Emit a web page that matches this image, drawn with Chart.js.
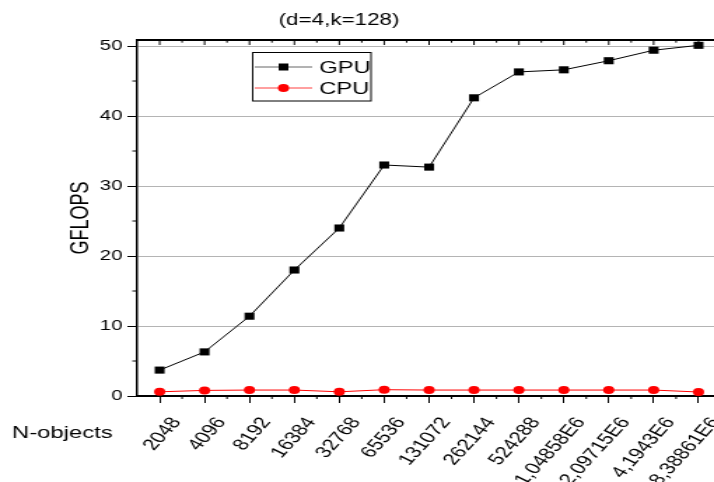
<!DOCTYPE html>
<html>
<head>
<meta charset="utf-8">
<script src="https://cdn.jsdelivr.net/npm/chart.js@4/dist/chart.umd.min.js"></script>
<style>
  html, body { margin: 0; padding: 0; background: #fff; overflow: hidden; }
  /* the reference is stretched sideways, so draw narrow and widen it */
  #wrap { width: 520px; height: 482px; transform: scaleX(1.4); transform-origin: 0 0; }
</style>
</head>
<body>
<div id="wrap"><canvas id="chart" width="520" height="482"></canvas></div>
<script>
const categories = ['2048', '4096', '8192', '16384', '32768', '65536', '131072',
    '262144', '524288', '1,04858E6', '2,09715E6', '4,1943E6', '8,38861E6'];
const gpuValues = [3.7, 6.3, 11.4, 18.0, 24.0, 33.0, 32.7, 42.6, 46.3, 46.6, 47.9, 49.4, 50.1];
const cpuValues = [0.6, 0.8, 0.85, 0.85, 0.6, 0.9, 0.85, 0.85, 0.85, 0.85, 0.85, 0.85, 0.57];
const yTicks = [0, 10, 20, 30, 40, 50];
const yMinorTicks = [5, 15, 25, 35, 45];

const FONT = 'Arial, "Liberation Sans", sans-serif';
Chart.defaults.font.family = FONT;
Chart.defaults.color = '#000';

const extras = {
    id: 'extras',
    afterDraw(chart) {
        const ctx = chart.ctx;
        const a = chart.chartArea;
        const xs = chart.scales.x, ys = chart.scales.y;
        const seg = (x1, y1, x2, y2) => {
            ctx.beginPath(); ctx.moveTo(x1, y1); ctx.lineTo(x2, y2); ctx.stroke();
        };
        ctx.save();
        ctx.strokeStyle = '#000';

        // top + right frame
        ctx.lineWidth = 2;
        seg(a.left, a.top, a.right, a.top);
        ctx.lineWidth = 1.5;
        seg(a.right, a.top, a.right, a.bottom);

        ctx.lineWidth = 1;
        // minor ticks on y
        yMinorTicks.forEach(v => {
            const py = ys.getPixelForValue(v);
            seg(a.left - 3.5, py, a.left, py);
        });
        // minor ticks on x, inward ticks on top frame
        categories.forEach((c, i) => {
            const px = xs.getPixelForValue(i);
            seg(px, a.top, px, a.top + 5);
            if (i < categories.length - 1) {
                const mid = (px + xs.getPixelForValue(i + 1)) / 2;
                seg(mid, a.bottom, mid, a.bottom + 3);
                seg(mid, a.top, mid, a.top + 2.7);
            }
        });

        // legend box
        const lx = 180.5, ly = 52.5, lw = 84.5, lh = 48.5;
        ctx.lineWidth = 1;
        ctx.strokeRect(lx, ly, lw, lh);
        const rows = [
            { label: 'GPU', y: 67, line: '#666', ds: chart.data.datasets[0] },
            { label: 'CPU', y: 88, line: '#ff4040', ds: chart.data.datasets[1] }
        ];
        rows.forEach(r => {
            ctx.strokeStyle = r.line;
            ctx.lineWidth = 1;
            seg(182, r.y, 223, r.y);
            ctx.fillStyle = r.ds.pointBackgroundColor;
            if (r.ds.pointStyle === 'rect') {
                ctx.fillRect(199, r.y - 3.5, 7, 7);
            } else {
                ctx.beginPath(); ctx.arc(202.5, r.y, 4, 0, Math.PI * 2); ctx.fill();
            }
            ctx.fillStyle = '#000';
            ctx.font = '17px ' + FONT;
            ctx.textBaseline = 'middle';
            ctx.textAlign = 'left';
            ctx.fillText(r.label, 228, r.y + 1);
        });

        // chart title and x axis caption
        ctx.fillStyle = '#000';
        ctx.textBaseline = 'middle';
        ctx.font = '16px ' + FONT;
        ctx.fillText('(d=4,k=128)', 199, 21);
        ctx.textBaseline = 'alphabetic';
        ctx.font = '17px ' + FONT;
        ctx.fillText('N-objects', 8.6, 438);
        ctx.restore();
    }
};

new Chart(document.getElementById('chart'), {
    type: 'line',
    data: {
        labels: categories,
        datasets: [{
            label: 'GPU',
            data: gpuValues,
            borderColor: '#000',
            borderWidth: 1,
            pointStyle: 'rect',
            pointRadius: 5,
            pointBackgroundColor: '#000',
            pointBorderWidth: 0,
            tension: 0
        }, {
            label: 'CPU',
            data: cpuValues,
            borderColor: '#ff0000',
            borderWidth: 1,
            pointStyle: 'circle',
            pointRadius: 4,
            pointBackgroundColor: '#ff0000',
            pointBorderWidth: 0,
            tension: 0
        }]
    },
    options: {
        responsive: false,
        animation: false,
        events: [],
        layout: { padding: { top: 40, right: 3, bottom: 0, left: 0 } },
        plugins: {
            legend: { display: false },
            tooltip: { enabled: false }
        },
        scales: {
            x: {
                type: 'category',
                offset: true,
                afterFit: s => {
                    s.height = 86;
                    s.paddingLeft = 0;
                    s.paddingRight = 0;
                },
                grid: {
                    offset: false,
                    drawOnChartArea: false,
                    drawTicks: true,
                    tickLength: 7,
                    color: '#000'
                },
                border: { display: true, color: '#000', width: 2 },
                ticks: {
                    autoSkip: false,
                    minRotation: 56,
                    maxRotation: 56,
                    labelOffset: 12,
                    padding: 11,
                    font: { size: 16 },
                    color: '#000'
                }
            },
            y: {
                min: 0,
                max: 50.86,
                afterFit: s => { s.width = 98; },
                afterBuildTicks: s => { s.ticks = yTicks.map(v => ({ value: v })); },
                grid: {
                    color: '#b4b4b4',
                    tickColor: '#000',
                    tickLength: 7,
                    lineWidth: 1
                },
                border: { display: true, color: '#000', width: 1.5 },
                ticks: { padding: 3.5, font: { size: 14.5 }, color: '#000' },
                title: {
                    display: true,
                    text: 'GFLOPS',
                    font: { size: 18 },
                    color: '#000',
                    padding: { top: 47, bottom: 0 }
                }
            }
        }
    },
    plugins: [extras]
});
</script>
</body>
</html>
